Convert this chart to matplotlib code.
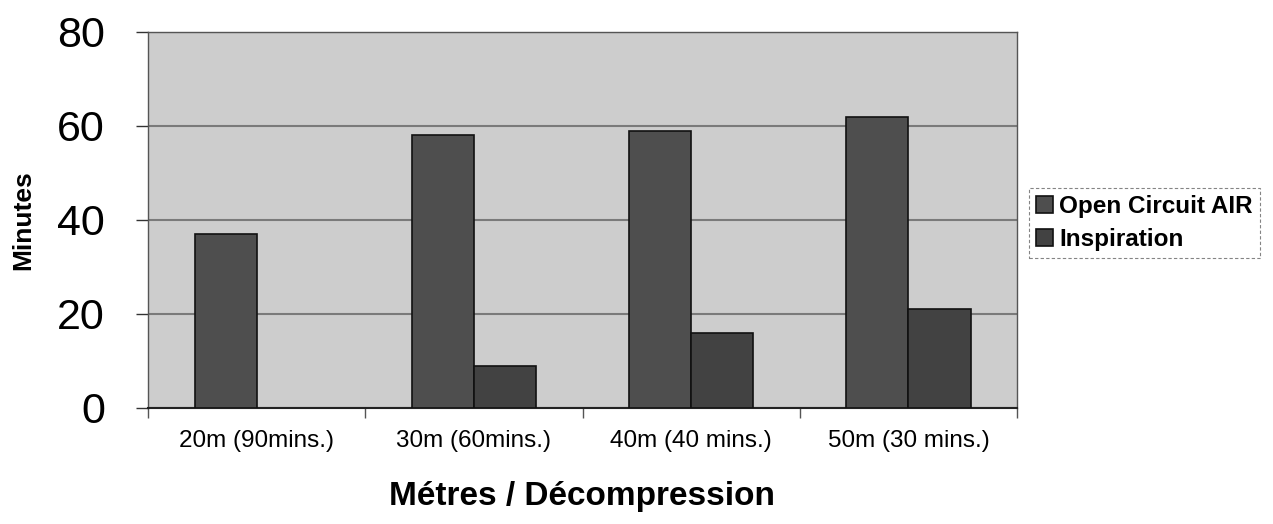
import matplotlib
matplotlib.use("Agg")
import matplotlib.pyplot as plt
import numpy as np

categories = ["20m (90mins.)", "30m (60mins.)", "40m (40 mins.)", "50m (30 mins.)"]
open_circuit = [37, 58, 59, 62]
inspiration = [0, 9, 16, 21]
series_names = ["Open Circuit AIR", "Inspiration"]
y_ticks = [0, 20, 40, 60, 80]

plt.rcParams['font.family'] = ['Liberation Sans', 'DejaVu Sans']

fig = plt.figure(figsize=(12.73, 5.24), dpi=100)
ax = fig.add_axes([0.1163, 0.2214, 0.6827, 0.7176])
ax.set_facecolor('#cdcdcd')

x = np.arange(len(categories))
w = 0.286
b1 = ax.bar(x - w/2, open_circuit, w, color='#4e4e4e', edgecolor='#111111', linewidth=1.2,
            label=series_names[0], zorder=3)
insp_vals = [v if v > 0 else np.nan for v in inspiration]
b2 = ax.bar(x + w/2, insp_vals, w, color='#424242', edgecolor='#111111', linewidth=1.2,
            label=series_names[1], zorder=3)

ax.set_xlim(-0.5, len(categories) - 0.5)
ax.set_ylim(0, 80)
ax.set_yticks(y_ticks)
ax.set_yticklabels([str(t) for t in y_ticks], fontsize=31)
ax.tick_params(axis='y', length=9, width=1, pad=22, color='#333333')
ax.yaxis.grid(True, color='#7a7a7a', linewidth=1.5, zorder=1)
ax.set_axisbelow(True)

ax.set_xticks(x)
ax.set_xticklabels(categories, fontsize=17.5)
ax.tick_params(axis='x', length=0, pad=16)
ax.set_xticks(np.arange(len(categories) + 1) - 0.5, minor=True)
ax.tick_params(axis='x', which='minor', length=7, width=1, color='#555555')

for s in ax.spines.values():
    s.set_color('#555555')
    s.set_linewidth(1)
ax.spines['bottom'].set_color('#222222')
ax.spines['bottom'].set_linewidth(1.5)

ax.set_ylabel("Minutes", fontsize=19, fontweight='bold', labelpad=16)
fig.text(0.457, 1 - 497 / 524, "Métres / Décompression", fontsize=24,
         fontweight='bold', ha='center', va='center')

leg = fig.legend(handles=[b1, b2], labels=series_names, loc='center left',
                 bbox_to_anchor=(0.808, 0.575), fontsize=17.5, frameon=True,
                 handlelength=0.7, handleheight=0.7, handletextpad=0.25,
                 borderpad=0.3, labelspacing=0.4, fancybox=False,
                 borderaxespad=0)
for t in leg.get_texts():
    t.set_fontweight('bold')
leg.get_frame().set_edgecolor('#666666')
leg.get_frame().set_linestyle((0, (3, 2)))
leg.get_frame().set_linewidth(0.8)

fig.savefig("out.png", dpi=100)
